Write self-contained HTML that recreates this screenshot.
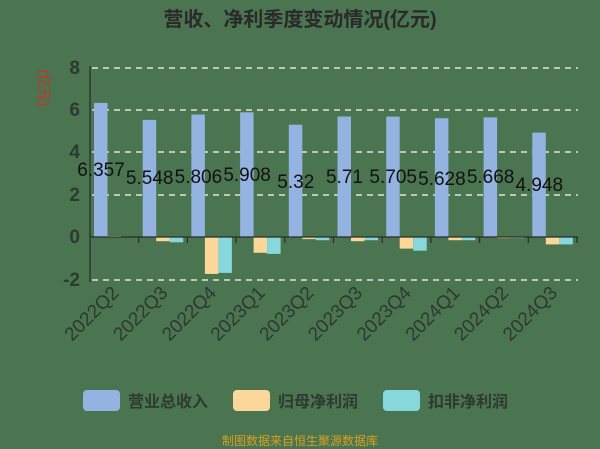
<!DOCTYPE html>
<html><head><meta charset="utf-8"><style>
html,body{margin:0;padding:0;background:#4a7550;}
svg{display:block}
</style></head><body>
<svg width="600" height="449" viewBox="0 0 600 449" xmlns="http://www.w3.org/2000/svg" font-family="Liberation Sans, Noto Sans CJK SC, sans-serif">
<rect width="600" height="449" fill="#4a7550"/>
<text x="300" y="26" text-anchor="middle" font-size="20" font-weight="bold" fill="#2a2a2a">营收、净利季度变动情况(亿元)</text>
<text x="0" y="0" transform="translate(39,88) rotate(90)" text-anchor="middle" font-size="14" fill="#d03020">(亿元)</text>
<g stroke="#dfe6dc" stroke-width="1.5" stroke-dasharray="6,5">
<line x1="92" y1="68" x2="578" y2="68"/>
<line x1="92" y1="110" x2="578" y2="110"/>
<line x1="92" y1="152" x2="578" y2="152"/>
<line x1="92" y1="195" x2="578" y2="195"/>
<line x1="92" y1="280" x2="578" y2="280"/>
</g>
<g font-size="19" font-weight="bold" fill="#2e3a30" text-anchor="end">
<text x="80" y="74">8</text><text x="80" y="116">6</text><text x="80" y="158">4</text><text x="80" y="201">2</text><text x="80" y="243">0</text><text x="80" y="286">-2</text>
</g>
<line x1="90" y1="66" x2="90" y2="282" stroke="#2a2a2a" stroke-width="1.2"/>
<g fill="#94b3e0">
<rect x="94" y="102.9" width="13.5" height="134.1"/>
<rect x="142.7" y="119.9" width="13.5" height="117.1"/>
<rect x="191.4" y="114.5" width="13.5" height="122.5"/>
<rect x="240.1" y="112.3" width="13.5" height="124.7"/>
<rect x="288.8" y="124.7" width="13.5" height="112.3"/>
<rect x="337.5" y="116.5" width="13.5" height="120.5"/>
<rect x="386.2" y="116.6" width="13.5" height="120.4"/>
<rect x="434.9" y="118.2" width="13.5" height="118.8"/>
<rect x="483.6" y="117.4" width="13.5" height="119.6"/>
<rect x="532.3" y="132.6" width="13.5" height="104.4"/>
</g>
<g fill="#fcd79a">
<rect x="107.5" y="236" width="13.5" height="1"/>
<rect x="156.2" y="237" width="13.5" height="4.2"/>
<rect x="204.9" y="237" width="13.5" height="36.9"/>
<rect x="253.6" y="237" width="13.5" height="15.8"/>
<rect x="302.3" y="237" width="13.5" height="2.1"/>
<rect x="351" y="237" width="13.5" height="4.2"/>
<rect x="399.7" y="237" width="13.5" height="11.6"/>
<rect x="448.4" y="237" width="13.5" height="3.2"/>
<rect x="497.1" y="237" width="13.5" height="1.1"/>
<rect x="545.8" y="237" width="13.5" height="7.4"/>
</g>
<g fill="#86d8dc">
<rect x="121" y="236.5" width="13.5" height="0.5"/>
<rect x="169.7" y="237" width="13.5" height="5.3"/>
<rect x="218.4" y="237" width="13.5" height="35.9"/>
<rect x="267.1" y="237" width="13.5" height="16.9"/>
<rect x="315.8" y="237" width="13.5" height="3.2"/>
<rect x="364.5" y="237" width="13.5" height="3.2"/>
<rect x="413.2" y="237" width="13.5" height="13.7"/>
<rect x="461.9" y="237" width="13.5" height="3.2"/>
<rect x="510.6" y="237" width="13.5" height="1.1"/>
<rect x="559.3" y="237" width="13.5" height="7.4"/>
</g>
<g stroke="#2a2a2a" stroke-width="1.2">
<line x1="90" y1="237" x2="578" y2="237"/>
<line x1="138.7" y1="237" x2="138.7" y2="243"/>
<line x1="187.4" y1="237" x2="187.4" y2="243"/>
<line x1="236.1" y1="237" x2="236.1" y2="243"/>
<line x1="284.8" y1="237" x2="284.8" y2="243"/>
<line x1="333.5" y1="237" x2="333.5" y2="243"/>
<line x1="382.2" y1="237" x2="382.2" y2="243"/>
<line x1="430.9" y1="237" x2="430.9" y2="243"/>
<line x1="479.6" y1="237" x2="479.6" y2="243"/>
<line x1="528.3" y1="237" x2="528.3" y2="243"/>
<line x1="577" y1="237" x2="577" y2="243"/>
</g>
<g font-size="19" fill="#111" text-anchor="middle">
<text x="101" y="176">6.357</text>
<text x="149.7" y="184">5.548</text>
<text x="198.4" y="183">5.806</text>
<text x="247.1" y="181">5.908</text>
<text x="295.8" y="188">5.32</text>
<text x="344.5" y="183">5.71</text>
<text x="393.2" y="183">5.705</text>
<text x="441.9" y="185">5.628</text>
<text x="490.6" y="183">5.668</text>
<text x="539.3" y="191">4.948</text>
</g>
<g font-size="19" fill="#2e3a30" text-anchor="end">
<text transform="translate(120,294) rotate(-45)">2022Q2</text>
<text transform="translate(168.7,294) rotate(-45)">2022Q3</text>
<text transform="translate(217.4,294) rotate(-45)">2022Q4</text>
<text transform="translate(266.1,294) rotate(-45)">2023Q1</text>
<text transform="translate(314.8,294) rotate(-45)">2023Q2</text>
<text transform="translate(363.5,294) rotate(-45)">2023Q3</text>
<text transform="translate(412.2,294) rotate(-45)">2023Q4</text>
<text transform="translate(460.9,294) rotate(-45)">2024Q1</text>
<text transform="translate(509.6,294) rotate(-45)">2024Q2</text>
<text transform="translate(558.3,294) rotate(-45)">2024Q3</text>
</g>
<g font-size="16" font-weight="bold" fill="#2e3a30">
<rect x="83" y="390" width="37" height="21" rx="4" fill="#94b3e0"/><text x="128" y="407">营业总收入</text>
<rect x="233" y="390" width="37" height="21" rx="4" fill="#fcd79a"/><text x="278" y="407">归母净利润</text>
<rect x="383" y="390" width="37" height="21" rx="4" fill="#86d8dc"/><text x="428" y="407">扣非净利润</text>
</g>
<text x="300" y="445" text-anchor="middle" font-size="12" fill="#d8a020">制图数据来自恒生聚源数据库</text>
</svg>
</body></html>
